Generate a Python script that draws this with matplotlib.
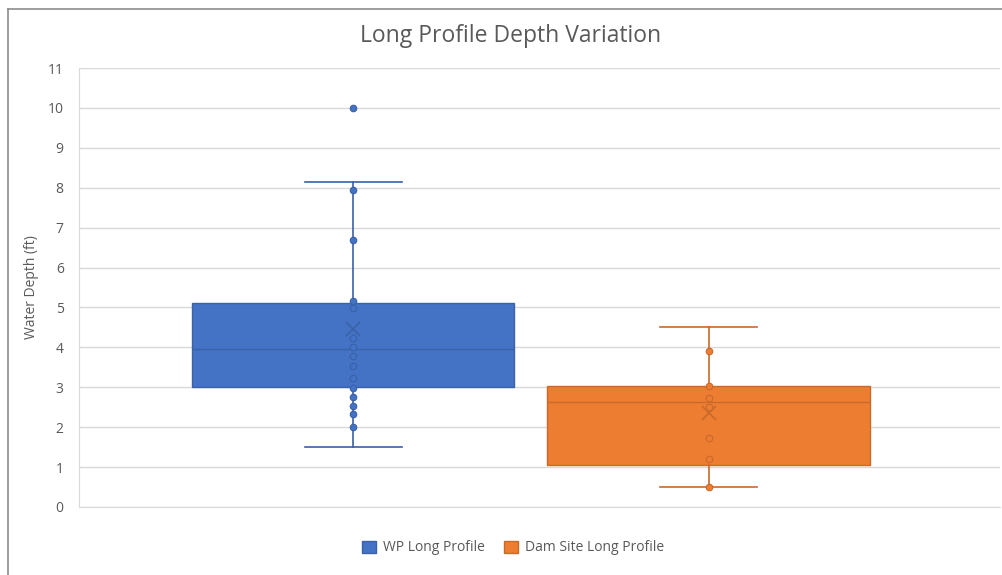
import matplotlib
matplotlib.use("Agg")
from matplotlib import pyplot as plt
from matplotlib.patches import Patch
from matplotlib.lines import Line2D

# series names and summary values
series = ['WP Long Profile', 'Dam Site Long Profile']
whisker_low = [1.5, 0.5]
q1 = [3.0, 1.05]
median = [3.97, 2.63]
q3 = [5.12, 3.03]
whisker_high = [8.15, 4.5]
means = [4.45, 2.35]
outliers = [[10.0], []]

# individual points drawn on top of each box
wp_points = [10.0, 7.94, 6.69, 5.17, 4.99, 4.24, 4.02, 3.79, 3.53, 3.23, 2.99,
             2.76, 2.53, 2.32, 2.0]
dam_points = [3.91, 3.02, 2.73, 2.51, 1.72, 1.2, 0.51]

fill_colors = ['#4472C4', '#ED7D31']
line_colors = ['#3A62A8', '#C9692A']

plt.rcParams['font.family'] = ['Open Sans', 'DejaVu Sans']

fig = plt.figure(figsize=(10.02, 5.75), dpi=100)
ax = fig.add_axes([0.0788, 0.1183, 0.9192, 0.7634])

positions = [1, 2]
for i in range(2):
    stats = [{
        'whislo': whisker_low[i], 'q1': q1[i], 'med': median[i],
        'q3': q3[i], 'whishi': whisker_high[i], 'mean': means[i],
        'fliers': outliers[i], 'label': series[i],
    }]
    ax.bxp(stats, positions=[positions[i]], widths=0.907, patch_artist=True,
           showmeans=True, showfliers=False,
           boxprops=dict(facecolor=fill_colors[i], edgecolor=line_colors[i], linewidth=1),
           medianprops=dict(color=line_colors[i], linewidth=1),
           whiskerprops=dict(color=line_colors[i], linewidth=1.2),
           capprops=dict(color=line_colors[i], linewidth=1.2),
           capwidths=0.273,
           meanprops=dict(marker='x', markersize=10, markeredgecolor=line_colors[i],
                          markeredgewidth=1.2),
           zorder=2)

pts = [wp_points, dam_points]
for i in range(2):
    ax.scatter([positions[i]] * len(pts[i]), pts[i], s=22,
               facecolor=fill_colors[i], edgecolor=line_colors[i],
               linewidth=0.8, zorder=3)

ax.set_xlim(0.228, 2.82)
ax.set_ylim(0, 11)
ax.set_yticks(range(0, 12))
ax.set_xticks([])
ax.grid(axis='y', color='#D9D9D9', linewidth=1)
ax.set_axisbelow(True)
for s in ['top', 'right']:
    ax.spines[s].set_visible(False)
for s in ['left', 'bottom']:
    ax.spines[s].set_color('#D9D9D9')
ax.tick_params(axis='y', length=0, labelsize=10, labelcolor='#595959', pad=11)

ax.set_ylabel('Water Depth (ft)', fontsize=10, color='#595959')
ax.yaxis.set_label_coords(-0.043, 0.5)
fig.text(0.51, 0.938, 'Long Profile Depth Variation', fontsize=16.5,
         color='#595959', ha='center', va='center')

handles = [Patch(facecolor=fill_colors[i], edgecolor=line_colors[i]) for i in range(2)]
fig.legend(handles, series, loc='center', bbox_to_anchor=(0.512, 0.047), ncol=2,
           frameon=False, fontsize=10, labelcolor='#595959',
           handlelength=1.0, handleheight=1.0, columnspacing=1.4, handletextpad=0.5)

# outer chart border (left and top edges visible in the reference)
fig.add_artist(Line2D([8 / 1002, 8 / 1002], [0, 1 - 9 / 575], color='#8C8C8C', linewidth=1.2))
fig.add_artist(Line2D([8 / 1002, 1], [1 - 9 / 575, 1 - 9 / 575], color='#8C8C8C', linewidth=1.2))

fig.savefig('out.png', dpi=100)
